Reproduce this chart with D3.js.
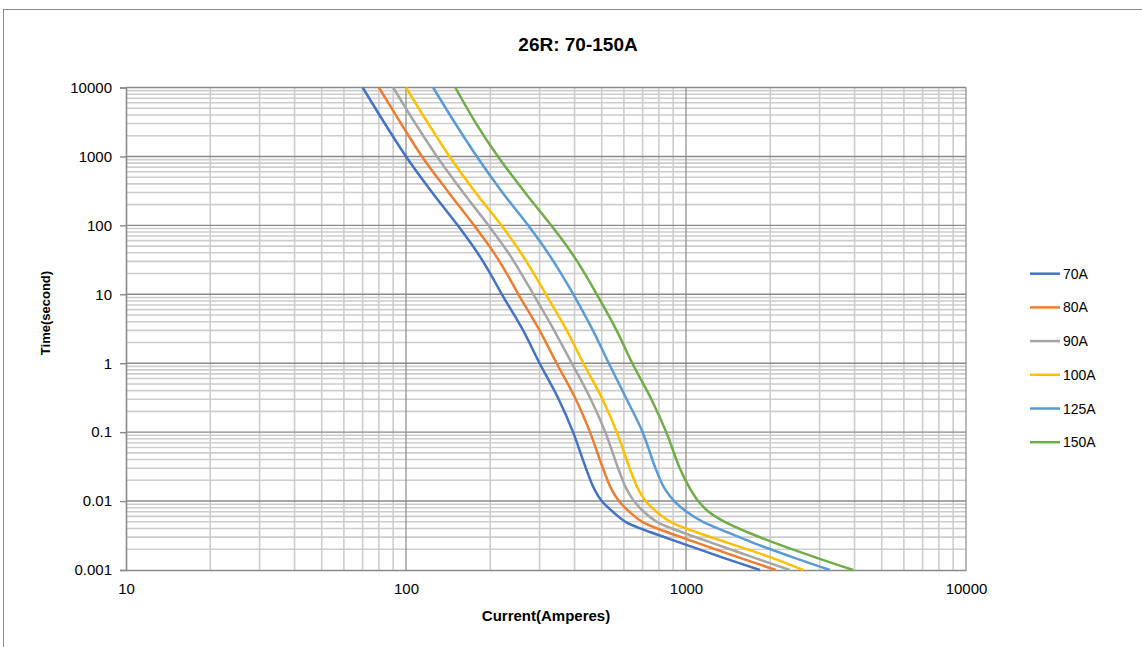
<!DOCTYPE html>
<html lang="en">
<head>
<meta charset="utf-8">
<title>26R: 70-150A</title>
<script src="https://d3js.org/d3.v7.min.js"></script>
<style>
  body { margin: 0; background: #fff; }
  svg { display: block; font-family: "Liberation Sans", Arial, sans-serif; }
</style>
</head>
<body>
<svg id="chart" width="1142" height="647"></svg>
<script>
// time points (seconds) shared by every curve
var times = [10000, 3000, 1000, 300, 100, 40, 20, 10, 3, 1, 0.3, 0.1, 0.03, 0.015, 0.01, 0.007, 0.005, 0.0035, 0.0025, 0.0015, 0.001];

// current (A) at those times
var amps70  = [70, 84, 100, 124, 153, 180, 200, 220, 262, 300, 351, 395, 439, 470, 500, 548, 608, 752, 951, 1361, 1837];
var amps80  = [80, 96, 114, 142, 175, 206, 229, 252, 300, 345, 404, 454, 505, 541, 576, 628, 698, 862, 1090, 1560, 2094];
var amps90  = [90, 108, 129, 160, 197, 232, 258, 285, 338, 391, 457, 515, 572, 613, 652, 707, 787, 972, 1230, 1760, 2349];
var amps100 = [100, 120, 143, 177, 219, 257, 286, 316, 375, 430, 503, 566, 629, 674, 717, 785, 880, 1097, 1400, 2030, 2624];
var amps125 = [125, 150, 179, 221, 273, 321, 358, 396, 465, 530, 614, 700, 778, 840, 908, 1005, 1150, 1412, 1730, 2440, 3268];
var amps150 = [150, 178, 213, 266, 330, 390, 435, 480, 565, 643, 752, 850, 950, 1035, 1105, 1205, 1375, 1670, 2060, 2935, 3955];

var seriesNames = ["70A", "80A", "90A", "100A", "125A", "150A"];
var seriesAmps = [amps70, amps80, amps90, amps100, amps125, amps150];
var seriesColors = ["#4472C4", "#ED7D31", "#A5A5A5", "#FFC000", "#5B9BD5", "#70AD47"];

var xTicks = [10, 100, 1000, 10000];
var xTickLabels = ["10", "100", "1000", "10000"];
var yTicks = [0.001, 0.01, 0.1, 1, 10, 100, 1000, 10000];
var yTickLabels = ["0.001", "0.01", "0.1", "1", "10", "100", "1000", "10000"];

var svg = d3.select("#chart");

var plot = {left: 126, right: 966, top: 87.5, bottom: 570};

var x = d3.scaleLog().domain([10, 10000]).range([plot.left, plot.right]),
    y = d3.scaleLog().domain([0.001, 10000]).range([plot.bottom, plot.top]);

// outer chart border
svg.append("rect")
    .attr("x", 3.5).attr("y", 9.5)
    .attr("width", 1160).attr("height", 660)
    .attr("fill", "none").attr("stroke", "#8c8c8c").attr("stroke-width", 1);

svg.append("text")
    .attr("x", 578).attr("y", 51)
    .attr("text-anchor", "middle")
    .attr("font-size", 19).attr("font-weight", "bold")
    .text("26R: 70-150A");

// minor grid values
var xMinor = [], yMinor = [];
xTicks.slice(0, -1).forEach(function(d) {
  for (var k = 2; k <= 9; k++) xMinor.push(d * k);
});
yTicks.slice(0, -1).forEach(function(d) {
  for (var k = 2; k <= 9; k++) yMinor.push(d * k);
});

var grid = svg.append("g");

grid.selectAll(".xminor").data(xMinor).enter().append("line")
    .attr("x1", function(d) { return x(d); }).attr("x2", function(d) { return x(d); })
    .attr("y1", plot.top).attr("y2", plot.bottom)
    .attr("stroke", "#cdcdcd").attr("stroke-width", 1.6);

grid.selectAll(".yminor").data(yMinor).enter().append("line")
    .attr("y1", function(d) { return y(d); }).attr("y2", function(d) { return y(d); })
    .attr("x1", plot.left).attr("x2", plot.right)
    .attr("stroke", "#cdcdcd").attr("stroke-width", 1.6);

grid.selectAll(".xmajor").data(xTicks.slice(1)).enter().append("line")
    .attr("x1", function(d) { return x(d); }).attr("x2", function(d) { return x(d); })
    .attr("y1", plot.top).attr("y2", plot.bottom)
    .attr("stroke", "#8a8a8a").attr("stroke-width", 1.2);

grid.selectAll(".ymajor").data(yTicks.slice(1)).enter().append("line")
    .attr("y1", function(d) { return y(d); }).attr("y2", function(d) { return y(d); })
    .attr("x1", plot.left).attr("x2", plot.right)
    .attr("stroke", "#8a8a8a").attr("stroke-width", 1.4);

// axes
svg.append("g")
    .attr("transform", "translate(" + plot.left + ",0)")
    .call(d3.axisLeft(y).tickValues(yTicks).tickSize(6).tickPadding(8)
      .tickFormat(function(d, i) { return yTickLabels[i]; }))
    .call(function(g) {
      g.select(".domain").attr("stroke", "#8a8a8a").attr("stroke-width", 1.6);
      g.selectAll(".tick line").attr("stroke", "#8a8a8a").attr("stroke-width", 1.4);
      g.selectAll("text").attr("font-size", 15).attr("fill", "#000")
        .attr("font-family", "Liberation Sans, Arial, sans-serif");
    });

svg.append("g")
    .attr("transform", "translate(0," + plot.bottom + ")")
    .call(d3.axisBottom(x).tickValues(xTicks).tickSize(0).tickPadding(13)
      .tickFormat(function(d, i) { return xTickLabels[i]; }))
    .call(function(g) {
      g.select(".domain").attr("stroke", "#8a8a8a").attr("stroke-width", 1.6);
      g.selectAll("text").attr("font-size", 15).attr("fill", "#000")
        .attr("font-family", "Liberation Sans, Arial, sans-serif");
    });

svg.append("text")
    .attr("x", 546).attr("y", 621)
    .attr("text-anchor", "middle")
    .attr("font-size", 15).attr("font-weight", "bold")
    .text("Current(Amperes)");

svg.append("text")
    .attr("transform", "translate(50,313) rotate(-90)")
    .attr("text-anchor", "middle")
    .attr("font-size", 13).attr("font-weight", "bold")
    .text("Time(second)");

// curves
var line = d3.line()
    .x(function(d) { return x(d[0]); })
    .y(function(d) { return y(d[1]); })
    .curve(d3.curveCatmullRom.alpha(0.5));

seriesAmps.forEach(function(amps, i) {
  var pts = amps.map(function(a, j) { return [a, times[j]]; });
  svg.append("path")
      .attr("d", line(pts))
      .attr("fill", "none")
      .attr("stroke", seriesColors[i])
      .attr("stroke-width", 2.5)
      .attr("stroke-linejoin", "round");
});

// legend
var legend = svg.append("g");
seriesNames.forEach(function(name, i) {
  var ly = 273.7 + i * 33.7;
  legend.append("line")
      .attr("x1", 1030).attr("x2", 1060)
      .attr("y1", ly).attr("y2", ly)
      .attr("stroke", seriesColors[i]).attr("stroke-width", 2.5);
  legend.append("text")
      .attr("x", 1063).attr("y", ly + 5)
      .attr("font-size", 14)
      .text(name);
});
</script>
</body>
</html>
